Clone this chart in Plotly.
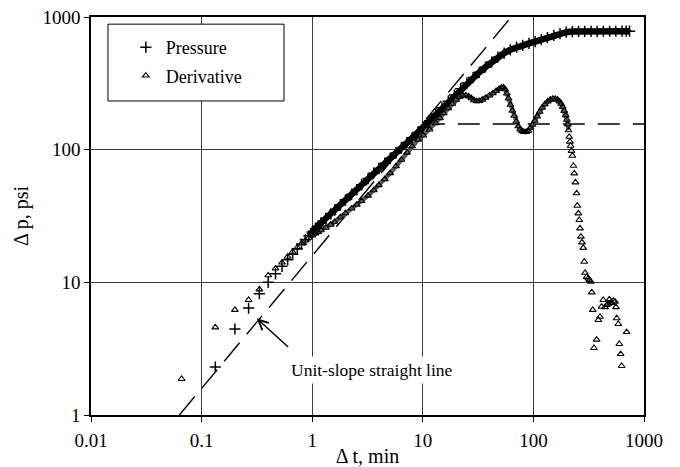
import numpy as np
import plotly.graph_objects as go

# ---------------- data ----------------
pressure_t = [0.133, 0.2, 0.266, 0.333, 0.4, 0.466, 0.533, 0.6, 0.666, 0.733, 0.8, 0.866,
              0.933, 1.0, 1.07, 1.13, 1.2, 1.33, 1.47, 1.6, 1.8, 2.0, 2.27, 2.53, 2.8, 3.2,
              3.6, 4.0, 4.53, 5.07, 5.73, 6.4, 7.2, 8.0, 9.07, 10.1, 11.5, 13.1, 14.9, 17.0,
              19.3, 22.0, 25.0, 28.5, 32.4, 36.9, 42.0, 47.8, 54.4, 61.9, 70.4, 80.1, 91.2,
              103.8, 118, 134, 153, 174, 198, 225, 256, 291, 332, 377, 429, 489, 556, 633,
              690, 740]
pressure_p = [2.3, 4.45, 6.4, 8.2, 10.0, 11.6, 13.2, 14.8, 16.3, 17.9, 19.4, 20.9,
              22.4, 24.0, 25.4, 26.6, 28.0, 30.4, 32.8, 35.0, 38.5, 41.8, 46, 50, 54.5, 60.5,
              66.5, 72, 79, 86, 94.5, 103, 113, 123, 135, 148, 165, 185, 207, 232,
              258, 288, 318, 350, 383, 420, 458, 498, 535, 566, 592, 612, 632,
              652, 675, 700, 727, 750, 768, 777, 780, 780, 780, 780, 781, 781, 781, 782,
              782, 782]

deriv_t = [0.066, 0.133, 0.2, 0.266, 0.333, 0.4, 0.466, 0.533, 0.6, 0.666, 0.733, 0.8,
           0.866, 0.933, 1.0, 1.07, 1.13, 1.2, 1.33, 1.47, 1.6, 1.8, 2.0, 2.27, 2.53, 2.8,
           3.2, 3.6, 4.0, 4.53, 5.07, 5.73, 6.4, 7.2, 8.0, 9.07, 10.1, 11.5, 13.1, 14.3,
           15.5, 17.0, 18.5, 20.0, 21.5, 23.0, 24.5, 26.0, 27.5, 29.0, 30.7, 32.5, 34.5,
           37.0, 40.0, 43.0, 46.0, 49.0, 51.5, 53.5, 55.5, 57.5, 59.6, 62.0, 64.5, 67.0,
           70.0, 73.0, 76.0, 79.0, 82.0, 86.0, 90.0, 94.0, 98.0, 103, 108, 114, 120, 127,
           135, 142, 150, 158, 165, 172, 178, 184, 190, 196, 201, 205, 208, 211, 214, 217,
           221, 225, 230, 234, 240, 246, 249, 255, 260, 264, 269, 275, 282, 288, 293, 303,
           314, 322, 330, 337, 344, 353, 373, 386, 400, 414, 428, 444, 460, 475, 486, 500,
           510, 528, 547, 558, 566, 586, 598, 615, 628, 697]
deriv_p = [1.87, 4.58, 6.2, 7.36, 8.85, 11.3, 12.7, 14.1, 15.6, 17.0, 18.3, 19.6,
           20.7, 21.7, 22.6, 23.4, 24.0, 24.7, 25.8, 27.2, 28.6, 31.0, 33.2, 36, 38.5, 41,
           45, 49.5, 54, 60, 66.5, 75, 84, 95, 106, 119, 128, 142, 158, 173,
           188, 205, 222, 238, 250, 256, 257, 252, 244, 236, 232, 233, 238,
           246, 256, 266, 277, 287, 293, 295, 285, 265, 243, 218, 197, 180,
           163, 150, 142, 138, 136, 136, 139, 146, 154, 165, 178, 193, 207, 220,
           231, 238, 242, 241, 238, 231, 222, 210, 196, 182, 168, 155, 140, 125, 115, 107,
           98, 90, 75.6, 66.3, 56.7, 46.9, 37.8, 33.1, 29.5, 25.5, 22.1, 20, 18.2, 14.3, 11.8, 11.0,
           10.7, 10.4, 10.1, 8.4, 6.2, 3.2, 3.7, 5.2, 5.5, 6.55, 7.36, 6.5, 6.75, 6.9, 7.45, 7.0,
           6.95, 7.26, 7.15, 6.5, 5.36, 4.85, 3.43, 2.88, 2.34, 4.22]

unit_slope_t = [0.063, 63.0]
unit_slope_p = [1.0, 1000.0]
radial_t = [10.0, 1000.0]
radial_p = [156.0, 156.0]

x_ticks = [0.01, 0.1, 1, 10, 100, 1000]
x_ticktext = ["0.01", "0.1", "1", "10", "100", "1000"]
y_ticks = [1, 10, 100, 1000]
y_ticktext = ["1", "10", "100", "1000"]

FONT = "Liberation Serif, Times New Roman, serif"

fig = go.Figure()

# dashed reference lines
fig.add_trace(go.Scatter(x=unit_slope_t, y=unit_slope_p, mode="lines",
                         line=dict(color="black", width=1.4, dash="24px,11px"),
                         showlegend=False, hoverinfo="skip"))
fig.add_trace(go.Scatter(x=radial_t, y=radial_p, mode="lines",
                         line=dict(color="black", width=1.4, dash="22px,13px"),
                         showlegend=False, hoverinfo="skip"))

# dense pressure band (overlapping markers)
pt = np.array(pressure_t)
pp = np.array(pressure_p)
band = pt >= 0.9
fig.add_trace(go.Scatter(x=pt[band], y=pp[band], mode="lines",
                         line=dict(color="black", width=6.5),
                         showlegend=False, hoverinfo="skip"))
fig.add_trace(go.Scatter(x=pressure_t, y=pressure_p, mode="markers", name="Pressure",
                         marker=dict(symbol="cross-thin", size=8, color="black",
                                     line=dict(color="black", width=1.5)),
                         legendgroup="p"))

# derivative band
dt = np.array(deriv_t)
dp = np.array(deriv_p)
dband = (dt >= 1.0) & (dt <= 208)
fig.add_trace(go.Scatter(x=dt[dband], y=dp[dband], mode="lines",
                         line=dict(color="#5a5a5a", width=4.5),
                         showlegend=False, hoverinfo="skip"))
fig.add_trace(go.Scatter(x=deriv_t, y=deriv_p, mode="markers", name="Derivative",
                         marker=dict(symbol="triangle-up-open", size=6, color="black",
                                     line=dict(color="black", width=1.1)),
                         legendgroup="d"))

axis_common = dict(
    type="log", showgrid=True, gridcolor="#3c3c3c", gridwidth=1,
    ticks="outside", ticklen=5, tickcolor="black", tickwidth=1,
    showline=True, linecolor="black", linewidth=1.5, mirror=True,
    tickfont=dict(family=FONT, size=19, color="black"),
    zeroline=False, automargin=False, ticklabeloverflow="allow",
)

# the page body adds an 8px offset, so the figure is 8px smaller than the window
fig.update_layout(
    width=672, height=459,
    margin=dict(l=83, r=36, t=9, b=52),
    paper_bgcolor="white", plot_bgcolor="white",
    font=dict(family=FONT, color="black"),
    xaxis=dict(**axis_common, range=[-2, 3], tickvals=x_ticks, ticktext=x_ticktext,
               ticklabelstandoff=2,
               title=dict(text="Δ t, min", font=dict(family=FONT, size=20), standoff=2)),
    yaxis=dict(**axis_common, range=[0, 3], tickvals=y_ticks, ticktext=y_ticktext,
               title=dict(text="Δ p, psi", font=dict(family=FONT, size=20), standoff=8)),
    showlegend=True,
    legend=dict(x=0.063, y=0.970, xanchor="left", yanchor="top",
                bgcolor="rgba(0,0,0,0)", borderwidth=0,
                font=dict(family=FONT, size=18, color="black"),
                traceorder="grouped", tracegroupgap=2, itemwidth=30),
    shapes=[dict(type="rect", xref="paper", yref="paper",
                 x0=0.0307, x1=0.349, y0=0.789, y1=0.982,
                 line=dict(color="black", width=1), fillcolor="white", layer="above")],
    annotations=[
        dict(x=np.log10(0.315), y=np.log10(5.35), xref="x", yref="y", text="",
             showarrow=True, ax=33, ay=30, axref="pixel", ayref="pixel",
             arrowhead=5, arrowsize=1.3, arrowwidth=1.5, arrowcolor="black"),
        dict(x=np.log10(3.44), y=np.log10(2.18), xref="x", yref="y",
             text="Unit-slope straight line", showarrow=False,
             font=dict(family=FONT, size=17.5, color="black"),
             bgcolor="white", borderpad=3),
    ],
)

fig.write_html("out.html")
